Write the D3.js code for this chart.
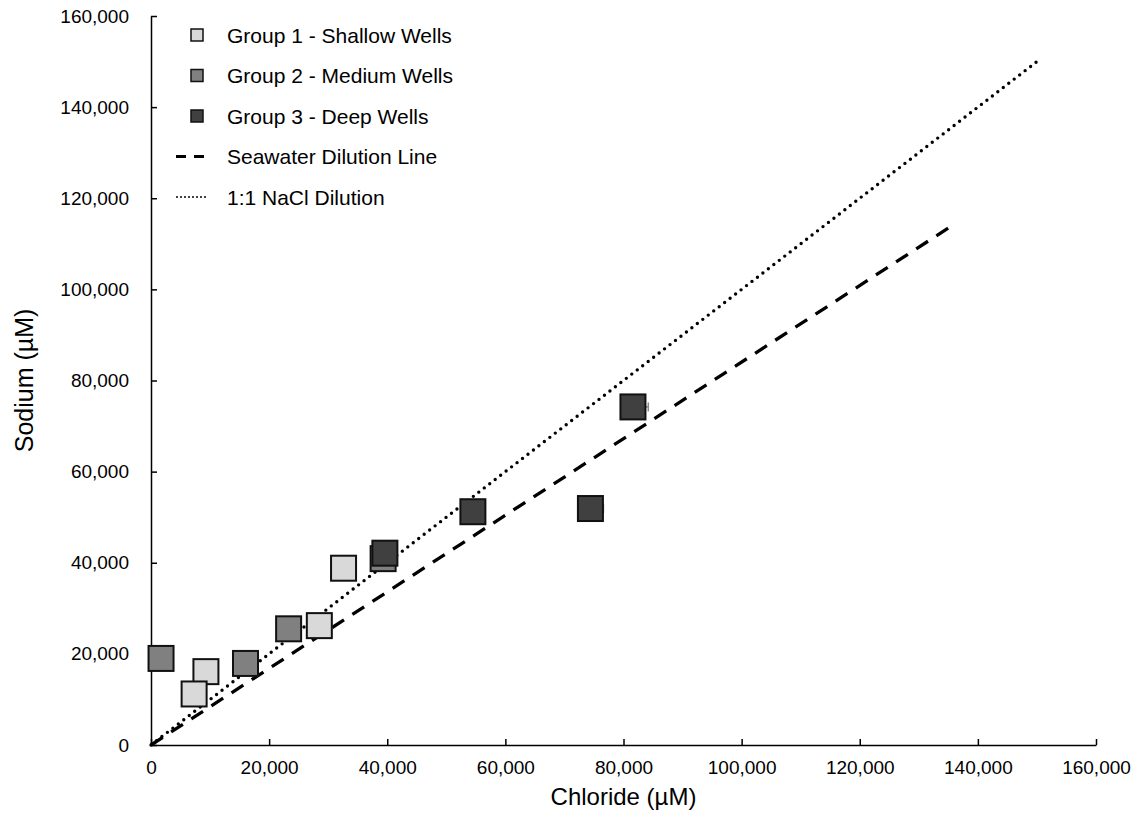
<!DOCTYPE html>
<html>
<head>
<meta charset="utf-8">
<script src="https://cdn.jsdelivr.net/npm/d3@7"></script>
<style>
  body { margin: 0; background: #fff; }
  svg text { font-family: "Liberation Sans", Arial, sans-serif; fill: #000; }
</style>
</head>
<body>
<svg id="chart" width="1146" height="829"></svg>
<script>
// values (µM)
const shallowCl  = [9300, 7300, 28500, 32600]
const shallowNa  = [16100, 11200, 26200, 38800]
const shallowErr = [0, 0, 0, 0]

const mediumCl  = [1700, 16000, 23300, 39300]
const mediumNa  = [19000, 17900, 25500, 40900]
const mediumErr = [0, 0, 0, 0]

const deepCl  = [39600, 54500, 74400, 81600]
const deepNa  = [42100, 51200, 51900, 74200]
const deepErr = [0, 0, 2200, 2600]

const seawaterLine = [[0, 0], [136000, 114300]]
const naclLine     = [[0, 0], [150000, 150000]]

const xTicks = [0, 20000, 40000, 60000, 80000, 100000, 120000, 140000, 160000]
const yTicks = [0, 20000, 40000, 60000, 80000, 100000, 120000, 140000, 160000]

const legendLabels = [
  'Group 1 - Shallow Wells',
  'Group 2 - Medium Wells',
  'Group 3 - Deep Wells',
  'Seawater Dilution Line',
  '1:1 NaCl Dilution',
]

const groups = [
  { cl: shallowCl, na: shallowNa, err: shallowErr, fill: '#d9d9d9' },
  { cl: mediumCl,  na: mediumNa,  err: mediumErr,  fill: '#808080' },
  { cl: deepCl,    na: deepNa,    err: deepErr,    fill: '#404040' },
]

const W = 1146, H = 829
const margin = { top: 16, right: 50, bottom: 84, left: 151 }
const iw = W - margin.left - margin.right
const ih = H - margin.top - margin.bottom

const svg = d3.select('#chart')
const g = svg.append('g').attr('transform', `translate(${margin.left},${margin.top})`)

const x = d3.scaleLinear().domain([0, 160000]).range([0, iw])
const y = d3.scaleLinear().domain([0, 160000]).range([ih, 0])
const fmt = d3.format(',')

// Axes (ticks point inward)
const xAxis = g.append('g').attr('transform', `translate(0,${ih})`)
  .call(d3.axisBottom(x).tickValues(xTicks).tickFormat(fmt)
    .tickSizeInner(-6).tickSizeOuter(0).tickPadding(16))
const yAxis = g.append('g')
  .call(d3.axisLeft(y).tickValues(yTicks).tickFormat(fmt)
    .tickSizeInner(-6).tickSizeOuter(0).tickPadding(22))

;[xAxis, yAxis].forEach(a => {
  a.select('.domain').attr('stroke', '#000').attr('stroke-width', 1.5)
  a.selectAll('.tick line').attr('stroke', '#000').attr('stroke-width', 1.5)
  a.selectAll('.tick text').attr('font-size', 19).attr('fill', '#000')
    .style('font-family', '"Liberation Sans", Arial, sans-serif')
})

// Titles
svg.append('text')
  .attr('x', margin.left + iw / 2).attr('y', 805)
  .attr('text-anchor', 'middle').attr('font-size', 24)
  .text('Chloride (µM)')
svg.append('text')
  .attr('transform', `translate(33,${margin.top + ih / 2}) rotate(-90)`)
  .attr('text-anchor', 'middle').attr('font-size', 25)
  .text('Sodium (µM)')

// Reference lines
const line = d3.line().x(d => x(d[0])).y(d => y(d[1]))
g.append('path').datum(seawaterLine)
  .attr('d', line).attr('fill', 'none')
  .attr('stroke', '#000').attr('stroke-width', 3.3)
  .attr('stroke-dasharray', '14 10')
g.append('path').datum(naclLine)
  .attr('d', line).attr('fill', 'none')
  .attr('stroke', '#000').attr('stroke-width', 3.4)
  .attr('stroke-linecap', 'round')
  .attr('stroke-dasharray', '0 6.9')

// Points + x error bars
const S = 25
groups.forEach(grp => {
  const pts = grp.cl.map((c, i) => ({ cl: c, na: grp.na[i], err: grp.err[i] }))
  const eb = g.append('g')
  pts.filter(p => p.err > 0).forEach(p => {
    eb.append('line')
      .attr('x1', x(p.cl)).attr('x2', x(p.cl + p.err))
      .attr('y1', y(p.na)).attr('y2', y(p.na))
      .attr('stroke', '#888').attr('stroke-width', 1.5)
    eb.append('line')
      .attr('x1', x(p.cl + p.err)).attr('x2', x(p.cl + p.err))
      .attr('y1', y(p.na) - 4.5).attr('y2', y(p.na) + 4.5)
      .attr('stroke', '#888').attr('stroke-width', 1.5)
  })
  g.append('g').selectAll('rect')
    .data(pts).join('rect')
    .attr('x', d => x(d.cl) - S / 2)
    .attr('y', d => y(d.na) - S / 2)
    .attr('width', S).attr('height', S)
    .attr('fill', grp.fill)
    .attr('stroke', '#111').attr('stroke-width', 2)
})

// Legend
const leg = svg.append('g')
const rowY = i => 35 + i * 40.5
leg.selectAll('rect')
  .data(groups).join('rect')
  .attr('x', 191).attr('y', (d, i) => rowY(i) - 6)
  .attr('width', 12).attr('height', 12)
  .attr('fill', d => d.fill)
  .attr('stroke', '#111').attr('stroke-width', 1.5)
leg.append('line')
  .attr('x1', 176).attr('x2', 206).attr('y1', rowY(3)).attr('y2', rowY(3))
  .attr('stroke', '#000').attr('stroke-width', 3)
  .attr('stroke-dasharray', '10 8')
leg.append('line')
  .attr('x1', 177).attr('x2', 206).attr('y1', rowY(4)).attr('y2', rowY(4))
  .attr('stroke', '#000').attr('stroke-width', 2)
  .attr('stroke-linecap', 'round')
  .attr('stroke-dasharray', '0 4')
leg.selectAll('text')
  .data(legendLabels).join('text')
  .attr('x', 227).attr('y', (d, i) => rowY(i))
  .attr('dy', '0.36em').attr('font-size', 21)
  .text(d => d)
</script>
</body>
</html>
